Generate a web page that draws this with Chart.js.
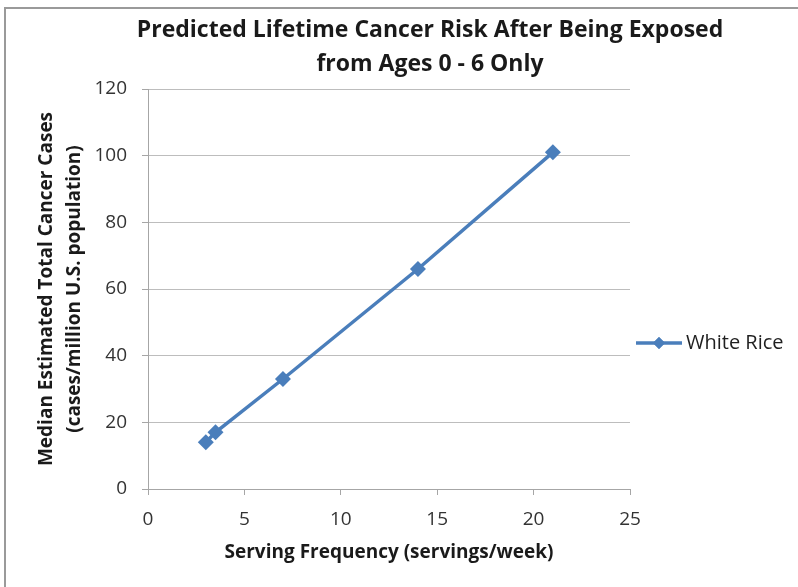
<!DOCTYPE html>
<html>
<head>
<meta charset="utf-8">
<script src="https://cdn.jsdelivr.net/npm/chart.js@4.4.1/dist/chart.umd.min.js"></script>
<style>
  html, body { margin: 0; padding: 0; background: #ffffff; }
  #wrap { width: 798px; height: 587px; position: relative; }
</style>
</head>
<body>
<div id="wrap"><canvas id="chart" width="798" height="587"></canvas></div>
<script>
// Serving frequency (servings/week) and predicted lifetime cancer cases
const servingFrequency = [3, 3.5, 7, 14, 21];
const medianCancerCases = [14, 17, 33, 66, 101];
const seriesName = 'White Rice';

const chartTitle = ['Predicted Lifetime Cancer Risk After Being Exposed', 'from Ages 0 - 6 Only'];
const xAxisTitle = 'Serving Frequency (servings/week)';
const yAxisTitle = ['Median Estimated Total Cancer Cases', '(cases/million U.S. population)'];

const xTicks = { min: 0, max: 25, step: 5 };
const yTicks = { min: 0, max: 120, step: 20 };

const FONT = '"Open Sans", Lato, sans-serif';
const LINE_BLUE = '#4a7ebb';
const AXIS_GREY = '#a6a6a6';
const GRID_GREY = '#bdbdbd';

// outer frame of the chart object
const framePlugin = {
  id: 'frame',
  beforeDraw(chart) {
    const ctx = chart.ctx;
    ctx.save();
    ctx.fillStyle = '#ffffff';
    ctx.fillRect(0, 0, chart.width, chart.height);
    ctx.strokeStyle = '#9a9a9a';
    ctx.lineWidth = 2;
    ctx.strokeRect(5, 8, chart.width + 20, chart.height + 20);
    ctx.restore();
  }
};

// centre the title over the whole chart object rather than the canvas
const titleShift = {
  id: 'titleShift',
  afterLayout(chart) {
    const t = chart.titleBlock;
    if (t) { t.left = 62; t.right = chart.width; }
  }
};

// line-and-marker legend entry on the right
const sideLegend = {
  id: 'sideLegend',
  afterDraw(chart) {
    const ctx = chart.ctx;
    const ds = chart.data.datasets[0];
    const y = 343, x0 = 636, x1 = 682;
    ctx.save();
    ctx.strokeStyle = ds.borderColor;
    ctx.lineWidth = 3.5;
    ctx.beginPath();
    ctx.moveTo(x0, y);
    ctx.lineTo(x1, y);
    ctx.stroke();
    ctx.fillStyle = ds.backgroundColor;
    Chart.helpers.drawPoint(ctx, { pointStyle: 'rectRot', radius: 6, borderWidth: 0 }, (x0 + x1) / 2, y);
    ctx.fill();
    ctx.fillStyle = '#1f1f1f';
    ctx.font = '20px ' + FONT;
    ctx.textBaseline = 'middle';
    ctx.textAlign = 'left';
    ctx.fillText(ds.label, 686, y);
    ctx.restore();
  }
};

new Chart(document.getElementById('chart'), {
  type: 'scatter',
  data: {
    datasets: [{
      label: seriesName,
      data: servingFrequency.map((x, i) => ({ x: x, y: medianCancerCases[i] })),
      showLine: true,
      borderColor: LINE_BLUE,
      backgroundColor: LINE_BLUE,
      borderWidth: 3.5,
      pointStyle: 'rectRot',
      pointRadius: 8,
      pointHoverRadius: 8,
      pointBorderWidth: 0
    }]
  },
  options: {
    responsive: false,
    animation: false,
    events: [],
    layout: { padding: { left: 0, top: 0, right: 168, bottom: 0 } },
    plugins: {
      legend: { display: false },
      tooltip: { enabled: false },
      title: {
        display: true,
        text: chartTitle,
        color: '#1a1a1a',
        font: { family: FONT, size: 23, weight: 'bold', lineHeight: 34 / 23 },
        padding: { top: 13, bottom: 8 }
      }
    },
    scales: {
      x: {
        type: 'linear',
        min: xTicks.min,
        max: xTicks.max,
        afterFit(scale) { scale.height = 98; },
        ticks: {
          stepSize: xTicks.step,
          color: '#333333',
          padding: 13,
          font: { family: FONT, size: 19 }
        },
        grid: {
          display: true,
          drawOnChartArea: false,
          drawTicks: true,
          tickLength: 6,
          color: AXIS_GREY
        },
        border: { display: true, color: AXIS_GREY, width: 1 },
        title: {
          display: true,
          text: xAxisTitle,
          color: '#1a1a1a',
          font: { family: FONT, size: 19, weight: 'bold', lineHeight: 1.2 },
          padding: { top: 0, bottom: 23 }
        }
      },
      y: {
        type: 'linear',
        min: yTicks.min,
        max: yTicks.max,
        afterFit(scale) { scale.width = 148; },
        ticks: {
          stepSize: yTicks.step,
          color: '#333333',
          padding: 15,
          font: { family: FONT, size: 19 }
        },
        grid: {
          color: GRID_GREY,
          lineWidth: 1,
          drawTicks: true,
          tickLength: 6,
          tickColor: AXIS_GREY
        },
        border: { display: true, color: AXIS_GREY, width: 1 },
        title: {
          display: true,
          text: yAxisTitle,
          color: '#1a1a1a',
          font: { family: FONT, size: 19, weight: 'bold', lineHeight: 28 / 19 },
          padding: { top: 33, bottom: 0 }
        }
      }
    }
  },
  plugins: [framePlugin, titleShift, sideLegend]
});
</script>
</body>
</html>
